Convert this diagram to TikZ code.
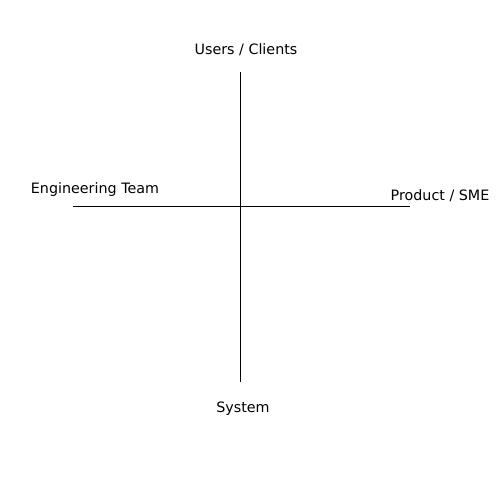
\documentclass[tikz,border=0pt]{standalone}
\usepackage{fontspec}
\setmainfont{DejaVu Sans}
\begin{document}
\begin{tikzpicture}[x=1pt,y=-1pt]
        \useasboundingbox (0,0) rectangle (500,500);
        \begin{scope}[every node/.style={inner sep=0pt, font=\fontsize{14.3}{17}\selectfont}]
                \node (Users) at (246,49.5) {Users / Clients};
                \node (Eng) at (95,189.5) {Engineering Team};
                \node (Prod) at (440,195.5) {Product / SME};
                \node (Sys) at (243,408.5) {System};
        \end{scope}
        \coordinate (Top) at (240,72);
        \coordinate (Bottom) at (240,382);
        \coordinate (Left) at (73,206);
        \coordinate (Right) at (410,206);
        \begin{scope}[every path/.style={draw=black, line width=0.8pt}]
                \path (Top) -- (Bottom);
                \path (Left) -- (Right);
        \end{scope}
\end{tikzpicture}
\end{document}
